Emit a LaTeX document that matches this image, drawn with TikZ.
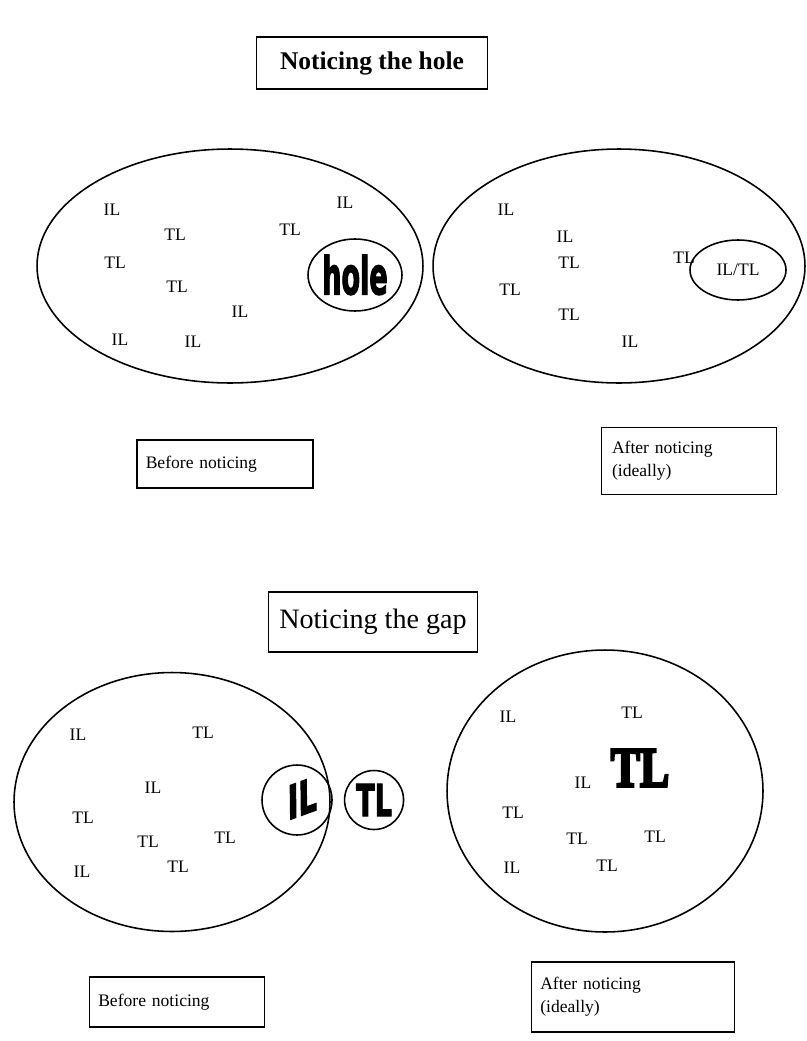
\documentclass[tikz,border=0pt]{standalone}
\usepackage{graphicx}
\usepackage{fontspec}
\setmainfont{Liberation Serif}
\newfontfamily\heavyfont{DejaVu Sans}[FakeBold=3]
\newfontfamily\skewfont{DejaVu Sans}[FakeSlant=0.5,FakeBold=3]
\newfontfamily\heavyserif{Liberation Serif}[FakeBold=5]
\usetikzlibrary{shapes.geometric,positioning}

\begin{document}
\begin{tikzpicture}[x=0.02cm,y=-0.02cm,
    field/.style={ellipse,draw,line width=0.9pt,inner sep=0pt},
    tag/.style={font=\fontsize{10}{12}\selectfont,inner sep=1pt},
    heading/.style={draw,line width=0.9pt,inner sep=0pt},
    caption/.style={draw,line width=0.9pt,inner xsep=5pt,align=left,font=\fontsize{10}{13}\selectfont}]

  \useasboundingbox (0,0) rectangle (807,1041);

  % noticing the hole
  \node[heading,minimum width=4.62cm,minimum height=1.04cm,font=\fontsize{14.5}{16}\selectfont\bfseries] (holetitle) at (372,63) {Noticing the hole};

  \node[field,minimum width=7.72cm,minimum height=4.68cm] (beforehole) at (230,266) {};
  \node[tag] (bh1) at (112,210) {IL};
  \node[tag] (bh2) at (175,235) {TL};
  \node[tag] (bh3) at (115,263) {TL};
  \node[tag] (bh4) at (177,287) {TL};
  \node[tag] (bh5) at (240,312) {IL};
  \node[tag] (bh6) at (120,340) {IL};
  \node[tag] (bh7) at (193,342) {IL};
  \node[tag] (bh8) at (290,230) {TL};
  \node[tag] (bh9) at (345,203) {IL};
  \node[field,minimum width=1.88cm,minimum height=1.44cm] (hole) at (355,275)
    {\scalebox{0.55}[1.05]{\heavyfont\bfseries\fontsize{28}{28}\selectfont hole}};

  \node[field,minimum width=7.44cm,minimum height=4.68cm] (afterhole) at (619,266) {};
  \node[tag] (ah1) at (506,210) {IL};
  \node[tag] (ah2) at (565,237) {IL};
  \node[tag] (ah3) at (569,263) {TL};
  \node[tag] (ah4) at (510,290) {TL};
  \node[tag] (ah5) at (569,315) {TL};
  \node[tag] (ah6) at (630,342) {IL};
  \node[tag] (ah7) at (684,258) {TL};
  \node[field,tag,minimum width=1.92cm,minimum height=1.2cm] (iltl) at (738,270) {IL/TL};

  \node[caption,text width=3.17cm,minimum height=0.96cm] (beforehole cap) at (225,464) {Before noticing};
  \node[caption,inner xsep=6pt,text width=3.08cm,minimum height=1.34cm] (afterhole cap) at (689,461) {After noticing\\(ideally)};

  % noticing the gap
  \node[heading,minimum width=4.18cm,minimum height=1.2cm,font=\fontsize{16}{18}\selectfont] (gaptitle) at (373,622) {Noticing the gap};

  \node[field,minimum width=6.32cm,minimum height=5.18cm] (beforegap) at (172,802) {};
  \node[tag] (bg1) at (78,735) {IL};
  \node[tag] (bg2) at (203,733) {TL};
  \node[tag] (bg3) at (153,788) {IL};
  \node[tag] (bg4) at (83,818) {TL};
  \node[tag] (bg5) at (148,842) {TL};
  \node[tag] (bg6) at (225,838) {TL};
  \node[tag] (bg7) at (82,872) {IL};
  \node[tag] (bg8) at (178,867) {TL};
  \node[circle,draw,line width=0.9pt,inner sep=0pt,minimum size=1.4cm] (ilgap) at (297,800)
    {\rotatebox{20}{\scalebox{0.7}[1]{\skewfont\bfseries\fontsize{25}{25}\selectfont IL}}};
  \node[circle,draw,line width=0.9pt,inner sep=0pt,minimum size=1.18cm] (tlgap) [right=0.22cm of ilgap]
    {\scalebox{0.62}[1]{\heavyfont\bfseries\fontsize{25}{25}\selectfont TL}};

  \node[field,minimum width=6.32cm,minimum height=5.64cm] (aftergap) at (605,791) {};
  \node[tag] (ag1) at (508,717) {IL};
  \node[tag] (ag2) at (632,713) {TL};
  \node[tag] (ag3) at (583,783) {IL};
  \node[tag] (ag4) at (513,813) {TL};
  \node[tag] (ag5) at (577,839) {TL};
  \node[tag] (ag6) at (655,837) {TL};
  \node[tag] (ag7) at (512,868) {IL};
  \node[tag] (ag8) at (607,866) {TL};
  \node[inner sep=0pt] (bigtl) at (640,768)
    {\scalebox{0.78}[1]{\heavyserif\bfseries\fontsize{32}{32}\selectfont TL}};

  \node[caption,text width=3.15cm,minimum height=1.0cm] (beforegap cap) at (177,1002) {Before noticing};
  \node[caption,text width=3.71cm,minimum height=1.4cm] (aftergap cap) at (633,997) {After noticing\\(ideally)};

\end{tikzpicture}
\end{document}
